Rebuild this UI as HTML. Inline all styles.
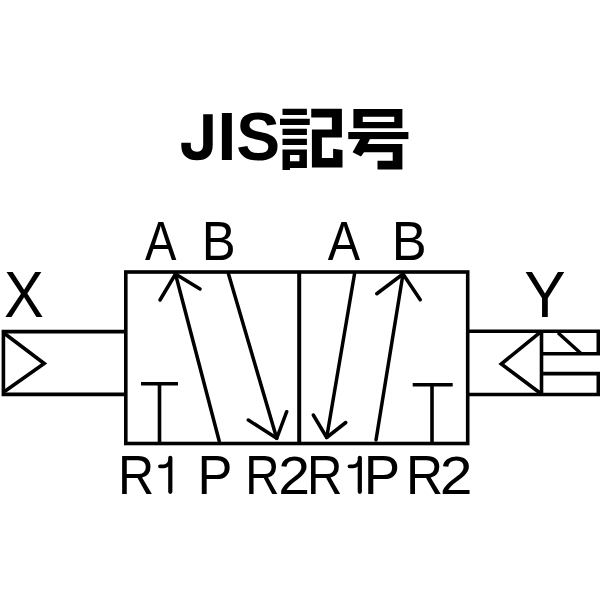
<!DOCTYPE html>
<html><head><meta charset="utf-8"><style>
html,body{margin:0;padding:0;background:#fff;width:600px;height:600px;overflow:hidden}
svg{position:absolute;left:0;top:0}
text{font-family:"Liberation Sans",sans-serif;fill:#000}
</style></head><body>
<svg width="600" height="600" viewBox="0 0 600 600">
<rect width="600" height="600" fill="#fff"/>

<g fill="#000">
<path d="M203.2 114.2H212.7V145C212.7 155.5 207 160.3 197 160.3C186 160.3 181.3 154 181.3 145.5V142.7H190.8V145.5C190.8 149.5 192.8 151.7 197 151.7C201.5 151.7 203.2 149 203.2 144Z"/>
<rect x="282.5" y="108.75" width="24.4" height="6.25"/>
<rect x="280" y="118.75" width="29.75" height="6.25"/>
<rect x="282.5" y="128.75" width="24.4" height="6.25"/>
<rect x="282.5" y="138.75" width="24.4" height="6.25"/>
<path fill-rule="evenodd" d="M282.5 149.4H306.9V168.1H290V170H282.5Z M290 155H299.4V161.25H290Z"/>
<path d="M311.25 108.75H341.9V137.5H321.9V158.1H333.1V148.75L342.5 150V167.5H311.9V129.4H331.9V117.5H311.25Z"/>
<path fill-rule="evenodd" d="M353.4 109.1H402.4V128.3H353.4Z M362.75 116.7H394.25V121.9H362.75Z"/>
<rect x="348.25" y="132" width="60.15" height="7.1"/>
<path d="M360 139.1H370L367.5 144H402.4V169.4H377.5V160.75H392.7V152.3H364L361 156.4L352.6 152.3Z"/>
</g>


<g stroke="#000" stroke-width="3.6" fill="none" stroke-linecap="butt">
<!-- main box -->
<rect x="125.8" y="272" width="341.9" height="171.5"/>
<line x1="299.2" y1="272" x2="299.2" y2="443.5" stroke-width="4"/>
<!-- left port -->
<path d="M125.8 331.6H3.4V394.4H125.8"/>
<path d="M4.5 333.5L44.2 363.5L4.5 391.5" stroke-width="3.6"/>
<!-- right port -->
<path d="M467.7 331.2H598.3V354M598.3 373.6V394.5H467.7"/>
<line x1="541.5" y1="331.2" x2="541.5" y2="394.5"/>
<path d="M539.5 332.8L501.3 364L540.4 393.3" stroke-width="3.6"/>
<line x1="541.5" y1="353.8" x2="600" y2="353.8"/>
<line x1="541.5" y1="373.6" x2="600" y2="373.6"/>
<line x1="558" y1="332.7" x2="580.7" y2="353.3" stroke-width="3.5"/>
<!-- T symbols -->
<line x1="141" y1="383.8" x2="178" y2="383.8"/>
<line x1="159.5" y1="383.8" x2="159.5" y2="443"/>
<line x1="412.7" y1="384.7" x2="452.7" y2="384.7"/>
<line x1="432" y1="384.7" x2="432" y2="443"/>
</g>
<g stroke="#000" stroke-width="3.5" fill="none" stroke-linecap="round" stroke-linejoin="round">
<!-- left arrows -->
<line x1="175.5" y1="274" x2="219.2" y2="441"/>
<path d="M160 300L175.5 274L200 289"/>
<line x1="228.3" y1="273.3" x2="276.7" y2="438.3"/>
<path d="M248.3 420L276.7 438.3L286.7 411.7"/>
<!-- right arrows -->
<line x1="354.5" y1="274" x2="326.7" y2="437.5"/>
<path d="M313.3 415L326.7 437.5L345.8 422.5"/>
<line x1="403" y1="274" x2="376" y2="440"/>
<path d="M376.75 293.75L403 274L420.25 299.75"/>
<!-- digit 1s -->
<line x1="170.3" y1="457.8" x2="170.3" y2="491.8" stroke-width="4.2"/>
<path d="M160 466.3H164Q168.5 466 170 461" stroke-width="3.8"/>
<line x1="359.8" y1="457.8" x2="359.8" y2="491.8" stroke-width="4.2"/>
<path d="M349.5 466.3H353.5Q358 466 359.5 461" stroke-width="3.8"/>
</g>

<g>
<text transform="matrix(69.310 0 0 67.754 217.24 160.00)" font-size="1" font-weight="bold">I</text>
<text transform="matrix(65.750 0 0 68.592 236.28 160.31)" font-size="1" font-weight="bold">S</text>
<text transform="matrix(47.121 0 0 56.058 144.96 260.20)" font-size="1" font-weight="normal">A</text>
<text transform="matrix(50.841 0 0 54.638 201.73 260.20)" font-size="1" font-weight="normal">B</text>
<text transform="matrix(48.485 0 0 55.474 327.76 260.00)" font-size="1" font-weight="normal">A</text>
<text transform="matrix(52.336 0 0 54.638 391.81 260.20)" font-size="1" font-weight="normal">B</text>
<text transform="matrix(50.169 0 0 55.072 117.99 494.00)" font-size="1" font-weight="normal">R</text>
<text transform="matrix(52.336 0 0 55.072 197.41 494.00)" font-size="1" font-weight="normal">P</text>
<text transform="matrix(47.458 0 0 55.072 245.20 494.00)" font-size="1" font-weight="normal">R</text>
<text transform="matrix(57.143 0 0 54.286 278.14 494.00)" font-size="1" font-weight="normal">2</text>
<text transform="matrix(49.153 0 0 55.072 307.07 494.00)" font-size="1" font-weight="normal">R</text>
<text transform="matrix(54.579 0 0 55.072 363.63 494.00)" font-size="1" font-weight="normal">P</text>
<text transform="matrix(51.356 0 0 55.072 405.89 494.00)" font-size="1" font-weight="normal">R</text>
<text transform="matrix(58.901 0 0 54.286 439.75 494.00)" font-size="1" font-weight="normal">2</text>
<text transform="matrix(59.677 0 0 65.217 4.01 317.00)" font-size="1" font-weight="normal">X</text>
<text transform="matrix(62.097 0 0 65.217 524.25 317.00)" font-size="1" font-weight="normal">Y</text>
</g>
</svg>
</body></html>
